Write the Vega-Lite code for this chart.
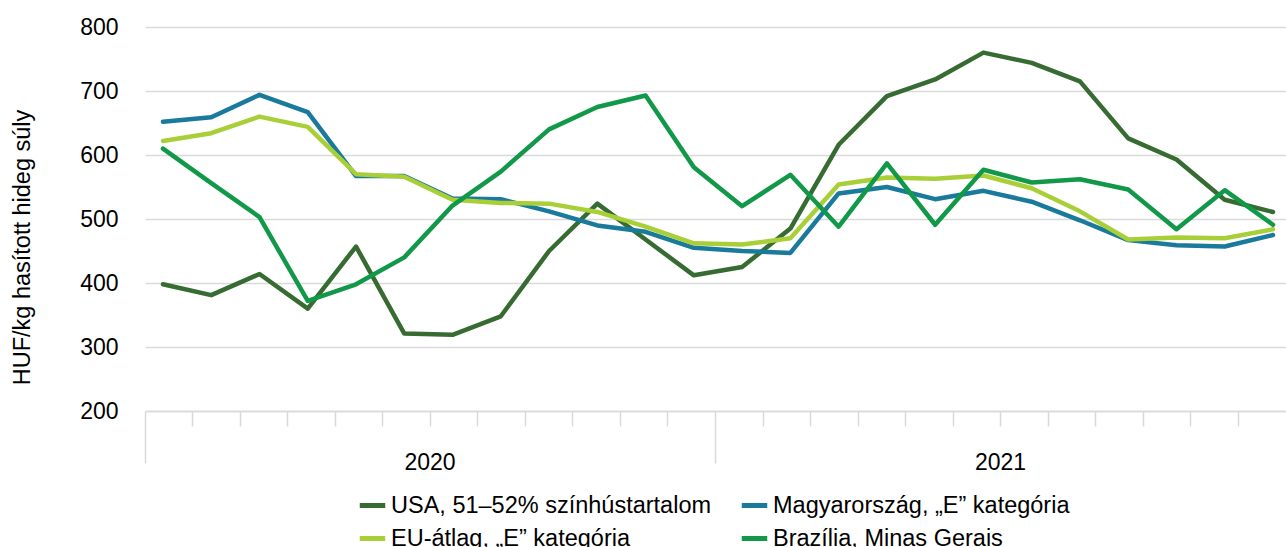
{
  "$schema": "https://vega.github.io/schema/vega-lite/v6.json",
  "width": 1141,
  "height": 384,
  "autosize": {"type": "none"},
  "padding": {"left": 145, "top": 27, "right": 0, "bottom": 136},
  "background": "white",
  "config": {"view": {"stroke": null}, "font": "Liberation Sans"},
  "data": {
    "values": [
      {"month": "2020-01", "usa": 398, "hu": 652, "eu": 622, "br": 610},
      {"month": "2020-02", "usa": 381, "hu": 659, "eu": 634, "br": 556},
      {"month": "2020-03", "usa": 414, "hu": 694, "eu": 660, "br": 503},
      {"month": "2020-04", "usa": 360, "hu": 667, "eu": 644, "br": 372},
      {"month": "2020-05", "usa": 457, "hu": 567, "eu": 570, "br": 398},
      {"month": "2020-06", "usa": 321, "hu": 567, "eu": 566, "br": 440},
      {"month": "2020-07", "usa": 319, "hu": 532, "eu": 530, "br": 521},
      {"month": "2020-08", "usa": 348, "hu": 531, "eu": 525, "br": 574},
      {"month": "2020-09", "usa": 450, "hu": 512, "eu": 524, "br": 640},
      {"month": "2020-10", "usa": 524, "hu": 490, "eu": 511, "br": 675},
      {"month": "2020-11", "usa": 468, "hu": 480, "eu": 488, "br": 693},
      {"month": "2020-12", "usa": 412, "hu": 455, "eu": 462, "br": 581},
      {"month": "2021-01", "usa": 425, "hu": 450, "eu": 460, "br": 520},
      {"month": "2021-02", "usa": 485, "hu": 447, "eu": 470, "br": 569},
      {"month": "2021-03", "usa": 616, "hu": 540, "eu": 554, "br": 488},
      {"month": "2021-04", "usa": 692, "hu": 550, "eu": 565, "br": 587},
      {"month": "2021-05", "usa": 718, "hu": 531, "eu": 563, "br": 491},
      {"month": "2021-06", "usa": 760, "hu": 544, "eu": 568, "br": 577},
      {"month": "2021-07", "usa": 744, "hu": 527, "eu": 548, "br": 557},
      {"month": "2021-08", "usa": 715, "hu": 498, "eu": 512, "br": 562},
      {"month": "2021-09", "usa": 626, "hu": 467, "eu": 468, "br": 546},
      {"month": "2021-10", "usa": 593, "hu": 459, "eu": 471, "br": 484},
      {"month": "2021-11", "usa": 530, "hu": 457, "eu": 470, "br": 545},
      {"month": "2021-12", "usa": 511, "hu": 475, "eu": 484, "br": 491}
    ]
  },
  "transform": [{"fold": ["usa", "hu", "eu", "br"], "as": ["series", "value"]}],
  "layer": [
    {
      "mark": {"type": "rule", "opacity": 0},
      "encoding": {
        "x": {
          "field": "month",
          "type": "ordinal",
          "scale": {"type": "band", "paddingInner": 0, "paddingOuter": 0},
          "axis": {
            "title": null,
            "bandPosition": 0,
            "domainColor": "#d9d9d9",
            "domainWidth": 1.5,
            "tickColor": "#d9d9d9",
            "tickWidth": 1.5,
            "tickSize": {"condition": {"test": "datum.value == '2020-01' || datum.value == '2021-01'", "value": 52}, "value": 15},
            "labelExpr": "datum.value == '2020-07' ? '2020' : (datum.value == '2021-07' ? '2021' : '')",
            "labelAngle": 0,
            "labelAlign": "center",
            "labelBaseline": "top",
            "labelFontSize": 23,
            "labelColor": "#000000",
            "labelPadding": 25,
            "labelOffset": -24,
            "labelOverlap": false
          }
        }
      }
    },
    {
      "mark": {"type": "line", "strokeWidth": 4.5, "strokeJoin": "round", "strokeCap": "round"},
      "encoding": {
        "x": {
          "field": "month",
          "type": "ordinal",
          "scale": {"type": "point", "padding": 0.321, "align": 0.58},
          "axis": null
        },
        "y": {
          "field": "value",
          "type": "quantitative",
          "scale": {"domain": [200, 800], "nice": false, "zero": false},
          "axis": {
            "title": "HUF/kg hasított hideg súly",
            "values": [200, 300, 400, 500, 600, 700, 800],
            "ticks": false,
            "domain": false,
            "gridColor": "#d9d9d9",
            "gridWidth": 1.5,
            "labelFontSize": 23,
            "labelColor": "#000000",
            "labelPadding": 27,
            "titleFontSize": 23.5,
            "titleFontWeight": "normal",
            "titleColor": "#000000",
            "titleAngle": 270,
            "titleX": -123,
            "titleY": 220,
            "titleAlign": "center",
            "titleBaseline": "middle"
          }
        },
        "color": {
          "field": "series",
          "type": "nominal",
          "scale": {
            "domain": ["usa", "hu", "eu", "br"],
            "range": ["#366b32", "#1a7a9c", "#a9cf38", "#119848"]
          },
          "legend": {
            "title": null,
            "orient": "none",
            "legendX": 212,
            "legendY": 463,
            "direction": "horizontal",
            "columns": 2,
            "symbolType": "stroke",
            "symbolSize": 650,
            "symbolStrokeWidth": 5,
            "labelFontSize": 23.5,
            "labelColor": "#000000",
            "labelOffset": 3,
            "labelLimit": 0,
            "columnPadding": 19,
            "rowPadding": 6,
            "labelExpr": "datum.value == 'usa' ? 'USA, 51–52% színhústartalom' : datum.value == 'hu' ? 'Magyarország, „E” kategória' : datum.value == 'eu' ? 'EU-átlag, „E” kategória' : 'Brazília, Minas Gerais'"
          }
        }
      }
    }
  ],
  "resolve": {"scale": {"x": "independent"}}
}
